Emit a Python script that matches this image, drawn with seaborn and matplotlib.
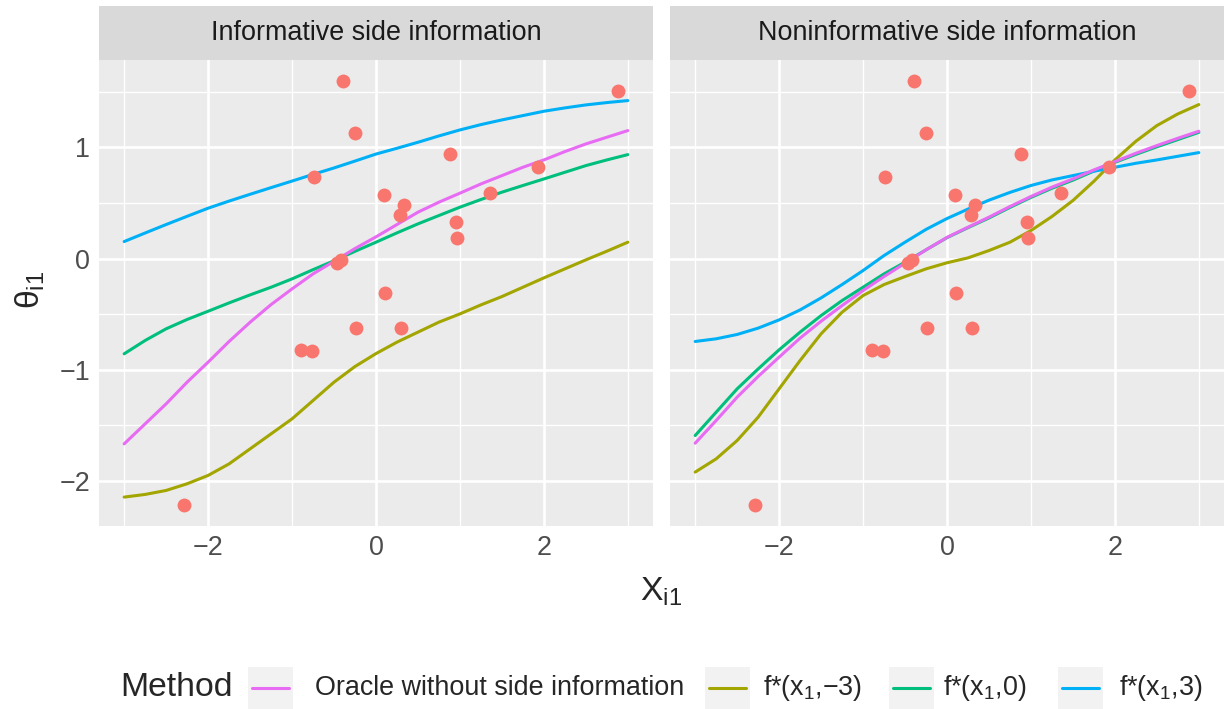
import numpy as np
import pandas as pd
import seaborn as sns
import matplotlib.pyplot as plt
from matplotlib.patches import Rectangle
from matplotlib.lines import Line2D

# x positions where the curves were read
x_grid = [-3.0, -2.75, -2.5, -2.25, -2.0, -1.75, -1.5, -1.25, -1.0, -0.75, -0.5, -0.25,
          0.0, 0.25, 0.5, 0.75, 1.0, 1.25, 1.5, 1.75, 2.0, 2.25, 2.5, 2.75, 3.0]

# informative side information panel
oracle_inf = [-1.667, -1.487, -1.307, -1.112, -0.932, -0.746, -0.573, -0.414, -0.273, -0.138, -0.025, 0.09,
              0.195, 0.306, 0.417, 0.507, 0.588, 0.671, 0.746, 0.821, 0.887, 0.962, 1.031, 1.091, 1.151]
fm3_inf = [-2.146, -2.122, -2.086, -2.026, -1.951, -1.847, -1.712, -1.577, -1.442, -1.277, -1.112, -0.971,
           -0.855, -0.752, -0.662, -0.572, -0.498, -0.417, -0.342, -0.258, -0.174, -0.093, -0.012, 0.066, 0.147]
f0_inf = [-0.857, -0.737, -0.632, -0.548, -0.474, -0.399, -0.327, -0.258, -0.183, -0.10, -0.02, 0.065,
          0.147, 0.231, 0.312, 0.387, 0.462, 0.531, 0.597, 0.657, 0.716, 0.776, 0.836, 0.887, 0.935]
f3_inf = [0.153, 0.23, 0.306, 0.38, 0.453, 0.517, 0.578, 0.638, 0.697, 0.757, 0.815, 0.877,
          0.94, 0.992, 1.046, 1.103, 1.157, 1.205, 1.247, 1.286, 1.325, 1.355, 1.382, 1.403, 1.421]

# noninformative side information panel
oracle_non = [-1.661, -1.457, -1.247, -1.061, -0.887, -0.716, -0.564, -0.423, -0.288, -0.162, -0.042, 0.078,
              0.19, 0.282, 0.372, 0.468, 0.558, 0.642, 0.716, 0.797, 0.872, 0.947, 1.016, 1.082, 1.145]
fm3_non = [-1.921, -1.802, -1.637, -1.427, -1.172, -0.917, -0.677, -0.483, -0.333, -0.234, -0.162, -0.093,
           -0.038, 0.006, 0.072, 0.147, 0.252, 0.378, 0.522, 0.695, 0.887, 1.055, 1.196, 1.301, 1.385]
f0_non = [-1.592, -1.382, -1.172, -0.993, -0.821, -0.662, -0.513, -0.378, -0.258, -0.138, -0.033, 0.078,
          0.188, 0.278, 0.365, 0.46, 0.55, 0.632, 0.705, 0.787, 0.865, 0.937, 1.005, 1.07, 1.135]
f3_non = [-0.746, -0.722, -0.683, -0.626, -0.552, -0.462, -0.354, -0.234, -0.108, 0.027, 0.147, 0.262,
          0.36, 0.445, 0.525, 0.595, 0.657, 0.707, 0.746, 0.785, 0.821, 0.857, 0.887, 0.92, 0.953]

# observed points (same in both panels)
obs_x = [-0.399, -0.255, -0.738, -0.415, -0.467, -0.239, -0.890, -0.766, -2.283, 0.096,
         0.332, 0.288, 0.887, 0.951, 0.966, 1.362, 1.925, 2.883, 0.112, 0.292]
obs_y = [1.595, 1.127, 0.737, -0.012, -0.042, -0.621, -0.821, -0.836, -2.215, 0.576,
         0.486, 0.390, 0.941, 0.327, 0.183, 0.594, 0.821, 1.511, -0.306, -0.626]

panels = ["Informative side information", "Noninformative side information"]
methods = ["Oracle without side information", "f*(x1,-3)", "f*(x1,0)", "f*(x1,3)"]
legend_labels = ["Oracle without side information", r"f*($\mathrm{x}_1$,−3)",
                 r"f*($\mathrm{x}_1$,0)", r"f*($\mathrm{x}_1$,3)"]
colors = {"Oracle without side information": "#E76BF3", "f*(x1,-3)": "#A3A500",
          "f*(x1,0)": "#00BF7D", "f*(x1,3)": "#00B0F6"}
draw_order = ["f*(x1,-3)", "f*(x1,0)", "f*(x1,3)", "Oracle without side information"]

series = {
    panels[0]: [oracle_inf, fm3_inf, f0_inf, f3_inf],
    panels[1]: [oracle_non, fm3_non, f0_non, f3_non],
}
rows = []
for p in panels:
    for m, vals in zip(methods, series[p]):
        for xv, yv in zip(x_grid, vals):
            rows.append({"panel": p, "method": m, "x": xv, "y": yv})
curves = pd.DataFrame(rows)
obs = pd.DataFrame({"x": obs_x, "y": obs_y})

sns.set_style("darkgrid", {"axes.facecolor": "#EBEBEB", "grid.color": "white"})
plt.rcParams["font.family"] = ["Liberation Sans", "DejaVu Sans"]
plt.rcParams["mathtext.fontset"] = "custom"
plt.rcParams["mathtext.rm"] = "Liberation Sans"
plt.rcParams["mathtext.it"] = "Liberation Sans"

W, H = 1230, 709
fig = plt.figure(figsize=(12.3, 7.09), dpi=100)

small = 19.4
big = 24.3
panel_left = [99, 670]
pw = 554
top, bottom = 60, 526

for i, p in enumerate(panels):
    x0 = panel_left[i]
    ax = fig.add_axes([x0 / W, (H - bottom) / H, pw / W, (bottom - top) / H])
    ax.set_facecolor("#EBEBEB")
    sub = curves[curves["panel"] == p]
    sns.lineplot(data=sub, x="x", y="y", hue="method", hue_order=draw_order,
                 palette=colors, linewidth=2.2, legend=False, estimator=None,
                 sort=True, ax=ax)
    sns.scatterplot(data=obs, x="x", y="y", color="#F8766D", s=100,
                    linewidth=0, ax=ax, zorder=5)
    ax.set_xlim(-3.3, 3.3)
    ax.set_ylim(-2.406, 1.786)
    ax.set_xticks([-2, 0, 2])
    ax.set_xticks([-3, -1, 1, 3], minor=True)
    ax.set_yticks([-2, -1, 0, 1])
    ax.set_yticks([-1.5, -0.5, 0.5, 1.5], minor=True)
    ax.grid(which="major", color="white", linewidth=1.9)
    ax.grid(which="minor", color="white", linewidth=0.95)
    for s in ax.spines.values():
        s.set_visible(False)
    ax.tick_params(which="major", length=3.8, width=1.1, color="#333333",
                   labelcolor="#4D4D4D", labelsize=small, pad=2.5)
    ax.tick_params(which="minor", length=0)
    ax.set_xticklabels(["−2", "0", "2"])
    if i == 0:
        ax.set_yticklabels(["−2", "−1", "0", "1"])
    else:
        ax.tick_params(axis="y", which="major", length=0, labelleft=False)
    ax.set_xlabel("")
    ax.set_ylabel("")

    # facet strip
    sax = fig.add_axes([x0 / W, (H - top) / H, pw / W, 54 / H])
    sax.set_facecolor("#D9D9D9")
    sax.set_xticks([])
    sax.set_yticks([])
    sax.grid(False)
    for s in sax.spines.values():
        s.set_visible(False)
    sax.text(0.5, 0.5, p, ha="center", va="center", fontsize=small,
             color="#1A1A1A", transform=sax.transAxes)

# axis titles
fig.text((99 + 670 + pw) / 2 / W, 1 - 592 / H, r"$\mathrm{X}_{\mathrm{i1}}$",
         ha="center", va="center", fontsize=big)
fig.text(30 / W, 1 - 290 / H, r"$\theta_{\mathrm{i1}}$", ha="center", va="center",
         fontsize=big, rotation=90)

# legend at the bottom
ly = 1 - 688 / H
fig.text(120 / W, ly, "Method", ha="left", va="center", fontsize=big)
key_x = [248, 705, 889, 1058]
text_x = [315, 763, 943, 1119]
for k, m in enumerate(methods):
    fig.patches.append(Rectangle((key_x[k] / W, 1 - 709 / H), 45 / W, 42 / H,
                                 transform=fig.transFigure, facecolor="#F2F2F2",
                                 edgecolor="none"))
    fig.lines.append(Line2D([(key_x[k] + 4) / W, (key_x[k] + 41) / W], [ly, ly],
                            transform=fig.transFigure, color=colors[m], linewidth=2.2))
    fig.text(text_x[k] / W, ly, legend_labels[k], ha="left", va="center",
             fontsize=small)

fig.savefig("out.png", dpi=100)
